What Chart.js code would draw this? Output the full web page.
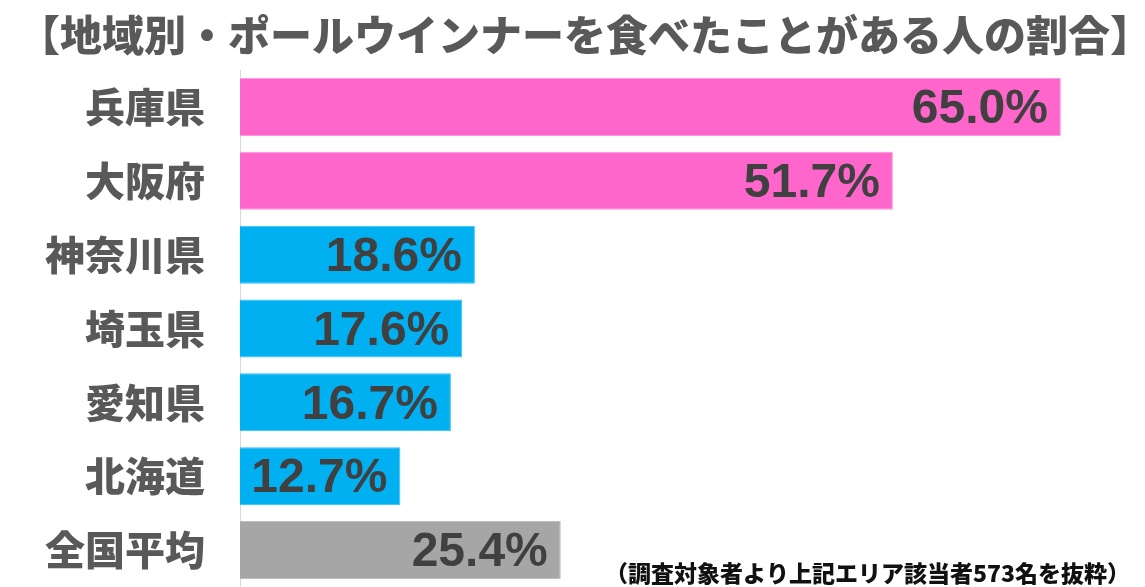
<!DOCTYPE html>
<html lang="ja">
<head>
<meta charset="utf-8">
<title>地域別・ポールウインナーを食べたことがある人の割合</title>
<script src="https://cdn.jsdelivr.net/npm/chart.js@4.4.0/dist/chart.umd.min.js"></script>
<style>
  html, body { margin: 0; padding: 0; background: #fff; overflow: hidden; }
  canvas { display: block; }
</style>
</head>
<body>
<canvas id="myChart" width="1145" height="587"></canvas>
<script>
"use strict";

// Data

const regions = ["兵庫県", "大阪府", "神奈川県", "埼玉県", "愛知県", "北海道", "全国平均"];
const shares = [65.0, 51.7, 18.6, 17.6, 16.7, 12.7, 25.4];
const barColors = ["#ff66cc", "#ff66cc", "#00b0f0", "#00b0f0", "#00b0f0", "#00b0f0", "#a6a6a6"];
const edgeColors = ["#ff99dd", "#ff99dd", "#33c0f3", "#33c0f3", "#33c0f3", "#33c0f3", "#bdbdbd"];
const titleText = "【地域別・ポールウインナーを食べたことがある人の割合】";
const noteText = "（調査対象者より上記エリア該当者573名を抜粋）";

const jpFont = '"Noto Sans CJK JP", "Noto Sans", sans-serif';

// Title, footnote and value labels drawn on the canvas

const textPlugin = {
  id: "textPlugin",
  afterDatasetsDraw(chart) {
    const ctx = chart.ctx;
    const meta = chart.getDatasetMeta(0);
    ctx.save();
    ctx.fillStyle = "#404040";
    ctx.font = 'bold 48px "Liberation Sans", Arial, sans-serif';
    ctx.textAlign = "right";
    ctx.textBaseline = "middle";
    meta.data.forEach((bar, i) => {
      ctx.fillText(shares[i].toFixed(1) + "%", bar.x - 13, bar.y + 3);
    });
    ctx.restore();
  },
  afterDraw(chart) {
    const ctx = chart.ctx;
    ctx.save();
    ctx.textBaseline = "middle";
    ctx.fillStyle = "#595959";
    ctx.font = "900 42px " + jpFont;
    ctx.textAlign = "center";
    ctx.fillText(titleText, 585, 35);
    ctx.fillStyle = "#111111";
    ctx.font = "900 23px " + jpFont;
    ctx.textAlign = "right";
    ctx.fillText(noteText, 1130, 573);
    ctx.restore();
  },
};

const ctx = document.getElementById("myChart").getContext("2d");
const myChart = new Chart(ctx, {
  type: "bar",
  data: {
    labels: regions,
    datasets: [
      {
        data: shares,
        backgroundColor: barColors,
        borderColor: edgeColors,
        borderWidth: 1,
        borderSkipped: "left",
        categoryPercentage: 1,
        barPercentage: 0.785,
      },
    ],
  },
  options: {
    indexAxis: "y",
    responsive: false,
    devicePixelRatio: 1,
    animation: false,
    layout: { padding: { top: 70, right: 21, bottom: 0, left: 0 } },
    plugins: {
      legend: { display: false },
      tooltip: { enabled: false },
      title: { display: false },
    },
    scales: {
      x: {
        display: false,
        min: 0,
        max: 70,
      },
      y: {
        afterFit(scale) {
          // label column is 240px wide, no extra room above/below
          scale.width = 240;
          scale.paddingTop = 0;
          scale.paddingBottom = 0;
        },
        grid: { display: false, drawTicks: false },
        border: { display: true, color: "#d9d9d9", width: 1 },
        ticks: {
          padding: 35,
          color: "#595959",
          font: { family: jpFont, size: 40, weight: 900 },
        },
      },
    },
  },
  plugins: [textPlugin],
});
</script>
</body>
</html>
